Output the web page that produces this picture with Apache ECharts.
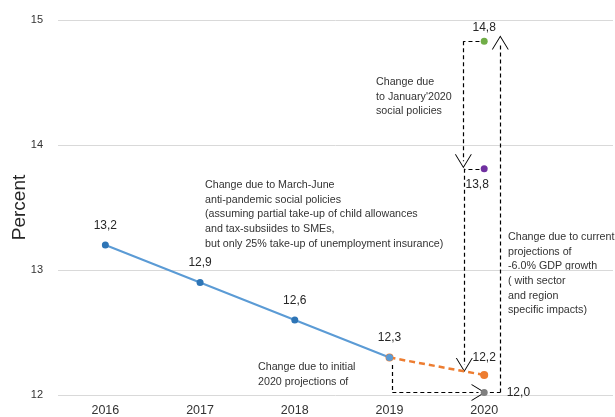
<!DOCTYPE html>
<html>
<head>
<meta charset="utf-8">
<script src="https://cdn.jsdelivr.net/npm/echarts@6/dist/echarts.min.js"></script>
<style>
  html, body { margin: 0; padding: 0; background: #fff; }
  #chart { width: 615px; height: 417px; }
</style>
</head>
<body>
<div id="chart"></div>
<script>
// data
const years = [2016, 2017, 2018, 2019, 2020]
const actualRate = [13.2, 12.9, 12.6, 12.3]
// 2020 scenarios
const initialProj = 12.16   // orange: initial 2020 projections
const gdpProj = 12.02       // grey: -6.0% GDP growth
const januaryProj = 14.83   // green: January'2020 social policies
const marchJuneProj = 13.81 // purple: March-June anti-pandemic policies
const yTicks = [12, 13, 14, 15]

const fmt = v => v.toFixed(1).replace('.', ',')
const openArrow = 'path://M0,15 L9,0 L18,15 L16.9,15 L9,1.9 L1.1,15 Z'

const chart = echarts.init(document.getElementById('chart'))

const seg = (a, b, arrow) => [
    { coord: a, symbol: 'none' },
    { coord: b, symbol: arrow ? openArrow : 'none', symbolSize: [17, 14] }
]

const labelStyle = { color: '#262626', fontSize: 12, fontFamily: 'Liberation Sans' }
const noteStyle = {
    fill: '#333',
    font: '10.7px "Liberation Sans"',
    lineHeight: 14.6
}

const option = {
    animation: false,
    grid: { left: 58, right: 2, top: 20, bottom: 22, outerBoundsMode: 'none' },
    xAxis: {
        type: 'value',
        min: 2015.5,
        max: 2021.36,
        axisLine: { show: false },
        axisTick: { show: false },
        splitLine: { show: false },
        axisLabel: {
            customValues: years,
            formatter: v => String(v),
            color: '#333',
            fontSize: 12.5,
            fontFamily: 'Liberation Sans',
            margin: 9
        }
    },
    yAxis: {
        type: 'value',
        min: yTicks[0],
        max: yTicks[yTicks.length - 1],
        interval: 1,
        name: 'Percent',
        nameLocation: 'middle',
        nameMoveOverlap: false,
        nameGap: 29,
        nameTextStyle: { fontSize: 19, color: '#262626', fontFamily: 'Liberation Sans' },
        axisLine: { show: false },
        axisTick: { show: false },
        axisLabel: { color: '#333', fontSize: 11, fontFamily: 'Liberation Sans', margin: 15 },
        splitLine: { lineStyle: { color: '#d9d9d9', width: 1 } }
    },
    series: [
        {
            type: 'line',
            data: [[years[3], actualRate[3]], [years[4], initialProj]],
            lineStyle: { color: '#ed7d31', width: 2.5, type: [6, 4] },
            symbol: 'circle',
            symbolSize: 8,
            itemStyle: { color: '#ed7d31' },
            label: {
                show: true,
                position: 'top',
                distance: 7,
                formatter: p => p.dataIndex === 1 ? fmt(p.value[1]) : '',
                ...labelStyle
            }
        },
        {
            type: 'line',
            data: actualRate.map((v, i) => [years[i], v]),
            lineStyle: { color: '#5b9bd5', width: 2 },
            symbol: 'circle',
            symbolSize: 7,
            itemStyle: { color: p => p.dataIndex === 3 ? '#5b9bd5' : '#2e75b6' },
            label: {
                show: true,
                position: 'top',
                distance: 10,
                formatter: p => fmt(p.value[1]),
                ...labelStyle
            }
        },
        {
            type: 'scatter',
            symbolSize: 7,
            z: 5,
            itemStyle: { opacity: 1 },
            data: [
                { value: [2020, gdpProj], itemStyle: { color: '#7f7f7f', opacity: 1 },
                  label: { position: 'right', distance: 19, ...labelStyle } },
                { value: [2020, januaryProj], itemStyle: { color: '#70ad47', opacity: 1 },
                  label: { position: 'top', distance: 4, ...labelStyle } },
                { value: [2020, marchJuneProj], itemStyle: { color: '#7030a0', opacity: 1 },
                  label: { position: 'bottom', distance: 6, offset: [-7, 0], ...labelStyle } }
            ],
            label: {
                show: true,
                formatter: p => fmt(p.value[1]),
                ...labelStyle
            },
            markLine: {
                silent: true,
                symbol: 'none',
                z: 3,
                label: { show: false },
                lineStyle: { color: '#000', width: 1.2, type: [4, 3] },
                data: [
                    seg([2019.03, 12.24], [2019.03, gdpProj]),
                    seg([2019.03, gdpProj], [2019.94, gdpProj], true),
                    seg([2020.06, gdpProj], [2020.17, gdpProj]),
                    seg([2020.17, gdpProj], [2020.17, 14.82], true),
                    seg([2019.95, januaryProj], [2019.78, januaryProj]),
                    seg([2019.78, januaryProj], [2019.78, 13.87], true),
                    seg([2019.95, marchJuneProj], [2019.79, marchJuneProj]),
                    seg([2019.79, marchJuneProj], [2019.79, 12.24], true)
                ]
            }
        }
    ],
    graphic: [
        { type: 'text', left: 376, top: 75,
          style: { text: "Change due\nto January'2020\nsocial policies", ...noteStyle } },
        { type: 'text', left: 205, top: 178,
          style: { text: 'Change due to March-June\nanti-pandemic social policies\n(assuming partial take-up of child allowances\nand tax-subsiides to SMEs,\nbut only 25% take-up of unemployment insurance)', ...noteStyle } },
        { type: 'text', left: 508, top: 230,
          style: { text: 'Change due to current\nprojections of\n-6.0% GDP growth\n( with sector\nand region\nspecific impacts)', ...noteStyle } },
        { type: 'text', left: 258, top: 360,
          style: { text: 'Change due to initial\n2020 projections of', ...noteStyle } }
    ]
}

chart.setOption(option)
</script>
</body>
</html>
